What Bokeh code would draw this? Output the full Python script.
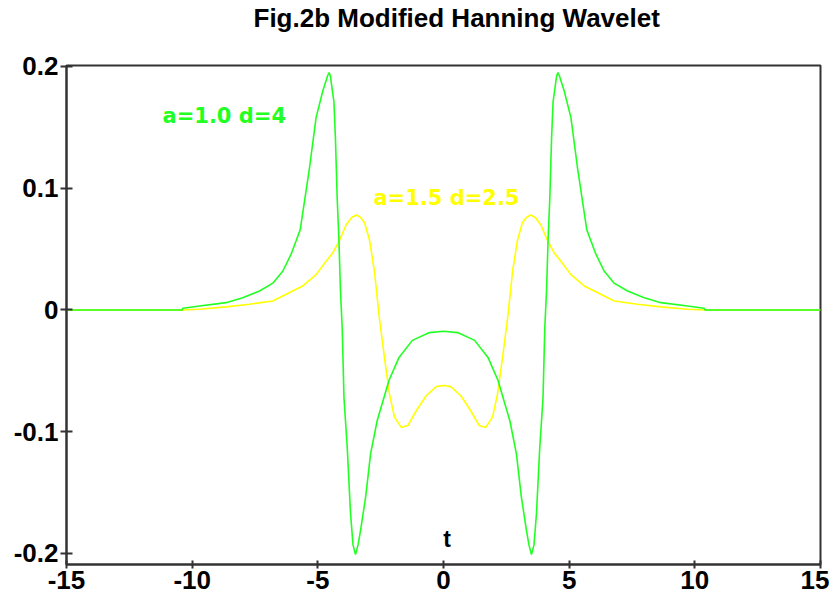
from bokeh.plotting import figure
from bokeh.models import Range1d, FixedTicker, LinearAxis
from bokeh.core.properties import value
from bokeh.embed import file_html
from bokeh.resources import INLINE

# ---- data ----
t_green = [-15, -10.4, -10.37, -9.71, -8.65, -7.99, -7.32, -6.79, -6.39, -6.06, -5.86, -5.7,
           -5.33, -5.07, -4.8, -4.6, -4.55, -4.5, -4.36, -4.3, -4.23, -4.16, -4.1, -4.03,
           -3.96, -3.83, -3.7, -3.6, -3.5, -3.4, -3.3, -3.1, -2.9, -2.64, -2.17, -1.77,
           -1.24, -0.56, 0,
           0.56, 1.24, 1.77, 2.17, 2.64, 2.9, 3.1, 3.3, 3.4, 3.5, 3.6, 3.7, 3.83, 3.96,
           4.03, 4.1, 4.16, 4.23, 4.3, 4.36, 4.5, 4.55, 4.6, 4.8, 5.07, 5.33, 5.7, 5.86,
           6.06, 6.39, 6.79, 7.32, 7.99, 8.65, 9.71, 10.37, 10.4, 15]
v_green = [0, 0, 0.0014, 0.0033, 0.006, 0.010, 0.0156, 0.022, 0.032, 0.046, 0.057, 0.066,
           0.117, 0.158, 0.180, 0.193, 0.195, 0.192, 0.171, 0.141, 0.092, 0.057, 0.016, -0.015,
           -0.072, -0.113, -0.167, -0.193, -0.201, -0.193, -0.181, -0.154, -0.118, -0.091, -0.058, -0.039,
           -0.025, -0.0186, -0.0175,
           -0.0186, -0.025, -0.039, -0.058, -0.091, -0.118, -0.154, -0.181, -0.193, -0.201, -0.193, -0.167, -0.113, -0.072,
           -0.015, 0.016, 0.057, 0.092, 0.141, 0.171, 0.192, 0.195, 0.193, 0.180, 0.158, 0.117, 0.066, 0.057,
           0.046, 0.032, 0.022, 0.0156, 0.010, 0.006, 0.0033, 0.0014, 0, 0]

t_yellow = [-15, -10.4, -9.71, -8.65, -7.72, -6.79, -6.0, -5.6, -5.07, -4.67, -4.4, -4.14,
            -3.87, -3.65, -3.47, -3.3, -3.14, -2.94, -2.75, -2.55, -2.35, -2.15, -1.95, -1.68,
            -1.42, -1.09, -0.69, -0.29, 0,
            0.29, 0.69, 1.09, 1.42, 1.68, 1.95, 2.15, 2.35, 2.55, 2.75, 2.94, 3.14, 3.3,
            3.47, 3.65, 3.87, 4.14, 4.4, 4.67, 5.07, 5.6, 6.0, 6.79, 7.72, 8.65, 9.71, 10.4, 15]
v_yellow = [0, 0, 0.0006, 0.0025, 0.0047, 0.0074, 0.0156, 0.0197, 0.029, 0.040, 0.047, 0.057,
            0.070, 0.076, 0.078, 0.076, 0.0716, 0.057, 0.032, -0.007, -0.039, -0.069, -0.088, -0.0965,
            -0.095, -0.083, -0.0705, -0.063, -0.062,
            -0.063, -0.0705, -0.083, -0.095, -0.0965, -0.088, -0.069, -0.039, -0.007, 0.032, 0.057, 0.0716, 0.076,
            0.078, 0.076, 0.070, 0.057, 0.047, 0.040, 0.029, 0.0197, 0.0156, 0.0074, 0.0047, 0.0025, 0.0006, 0, 0]

x_ticks = [-15, -10, -5, 0, 5, 10, 15]
x_tick_labels = ["-15", "-10", "-5", "0", "5", "10", "15"]
y_ticks = [-0.2, -0.1, 0, 0.1, 0.2]
y_tick_labels = ["-0.2", "-0.1", "0", "0.1", "0.2"]

title_text = "Fig.2b Modified Hanning Wavelet"
label_green = "a=1.0 d=4"
label_yellow = "a=1.5 d=2.5"
axis_name = "t"

GREEN = "#22ff22"
YELLOW = "#ffff00"
DARK = "#333333"

p = figure(width=829, height=605, output_backend="svg", toolbar_location=None,
           x_range=Range1d(-15, 15), y_range=Range1d(-0.2091, 0.2008),
           min_border_left=66, min_border_right=9, min_border_top=64, min_border_bottom=41,
           title=title_text)
p.title.align = "left"
p.title.vertical_align = "bottom"
p.title.text_font = "Liberation Sans"
p.title.text_font_style = "bold"
p.title.text_font_size = "26px"
p.title.text_color = "black"
p.title.standoff = 0
p.title.offset = 187

xaxis = p.below[0]
yaxis = p.left[0]

# invisible spacer between the title and the frame
spacer = LinearAxis(ticker=FixedTicker(ticks=[0]), major_label_overrides={0: ""},
                    axis_line_color=None, major_tick_line_color=None, minor_tick_line_color=None,
                    major_tick_in=0, major_tick_out=33, major_label_standoff=0,
                    major_label_text_font_size="1px")
p.add_layout(spacer, "above")

p.background_fill_color = "white"
p.border_fill_color = "white"
p.outline_line_color = DARK
p.outline_line_width = 2
p.grid.visible = False

for ax in (xaxis, yaxis):
    ax.axis_line_color = DARK
    ax.axis_line_width = 2
    ax.major_tick_line_color = DARK
    ax.major_tick_line_width = 2
    ax.minor_tick_line_color = None
    ax.major_label_text_font = "Liberation Sans"
    ax.major_label_text_font_style = "bold"
    ax.major_label_text_font_size = "26px"
    ax.major_label_text_color = "black"

xaxis.ticker = FixedTicker(ticks=x_ticks)
xaxis.major_label_overrides = {t: s for t, s in zip(x_ticks, x_tick_labels)}
xaxis.major_tick_in = 4
xaxis.major_tick_out = 4
xaxis.major_label_standoff = 2

yaxis.ticker = FixedTicker(ticks=y_ticks)
yaxis.major_label_overrides = {t: s for t, s in zip(y_ticks, y_tick_labels)}
yaxis.major_tick_in = 6
yaxis.major_tick_out = 6
yaxis.major_label_standoff = 2

p.line(t_yellow, v_yellow, line_color=YELLOW, line_width=1.6)
p.line(t_green, v_green, line_color=GREEN, line_width=1.6)

p.text(x=[-11.18], y=[0.159], text=[label_green], text_color=GREEN,
       text_font=value("DejaVu Sans"), text_font_style="bold", text_font_size="21px",
       text_baseline="alphabetic", text_align="left")
p.text(x=[-2.79], y=[0.0918], text=[label_yellow], text_color=YELLOW,
       text_font=value("DejaVu Sans"), text_font_style="bold", text_font_size="21px",
       text_baseline="alphabetic", text_align="left")
p.text(x=[0.14], y=[-0.188], text=[axis_name], text_color="black",
       text_font=value("Liberation Sans"), text_font_style="bold", text_font_size="23px",
       text_baseline="alphabetic", text_align="center")

open("out.html", "w").write(file_html(p, INLINE))
